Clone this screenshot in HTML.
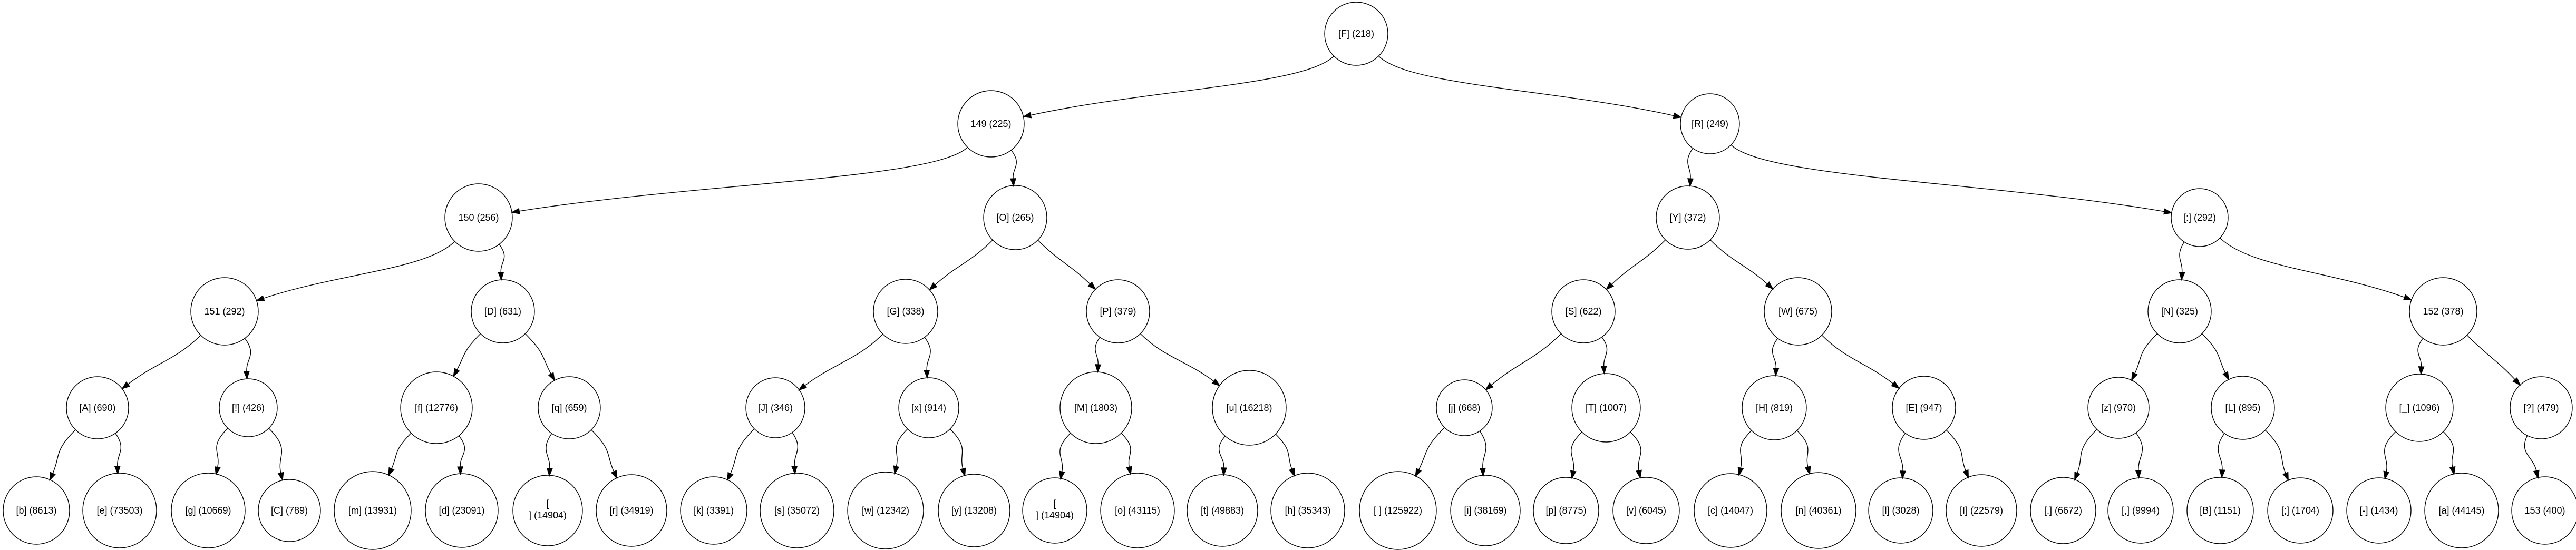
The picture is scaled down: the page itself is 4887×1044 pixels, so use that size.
<!DOCTYPE html>
<html><head><meta charset="utf-8"><style>
html,body{margin:0;padding:0;background:#fff;}
svg{display:block;}
text{font-family:"Liberation Sans",Arial,sans-serif;font-size:18px;fill:#000;text-anchor:middle;}
ellipse{fill:none;stroke:#000;stroke-width:1.4;}
</style></head><body>
<svg id="s" width="4887" height="1044" viewBox="0 0 4887 1044" xmlns="http://www.w3.org/2000/svg">
<g id="edges" fill="none" stroke="#000" stroke-width="1.4"></g>
<g id="heads" fill="#000" stroke="#000" stroke-width="1.4"></g>
<g id="nodes">
<ellipse cx="2573" cy="64" rx="60" ry="60"/><text x="2573" y="70">[F] (218)</text>
<ellipse cx="1880" cy="235" rx="63" ry="63"/><text x="1880" y="241">149 (225)</text>
<ellipse cx="3244" cy="235" rx="56" ry="57"/><text x="3244" y="241">[R] (249)</text>
<ellipse cx="908" cy="413" rx="64" ry="64"/><text x="908" y="419">150 (256)</text>
<ellipse cx="1926" cy="413" rx="60" ry="61"/><text x="1926" y="419">[O] (265)</text>
<ellipse cx="3202" cy="413" rx="60" ry="60"/><text x="3202" y="419">[Y] (372)</text>
<ellipse cx="4173" cy="413" rx="54" ry="55"/><text x="4173" y="419">[:] (292)</text>
<ellipse cx="426" cy="591" rx="64" ry="64"/><text x="426" y="597">151 (292)</text>
<ellipse cx="954" cy="591" rx="60" ry="60"/><text x="954" y="597">[D] (631)</text>
<ellipse cx="1718" cy="591" rx="61" ry="61"/><text x="1718" y="597">[G] (338)</text>
<ellipse cx="2121" cy="591" rx="60" ry="60"/><text x="2121" y="597">[P] (379)</text>
<ellipse cx="3004" cy="591" rx="60" ry="60"/><text x="3004" y="597">[S] (622)</text>
<ellipse cx="3411" cy="591" rx="64" ry="64"/><text x="3411" y="597">[W] (675)</text>
<ellipse cx="4135" cy="591" rx="60" ry="60"/><text x="4135" y="597">[N] (325)</text>
<ellipse cx="4635" cy="591" rx="64" ry="64"/><text x="4635" y="597">152 (378)</text>
<ellipse cx="185" cy="774" rx="59" ry="59"/><text x="185" y="780">[A] (690)</text>
<ellipse cx="471" cy="774" rx="55" ry="55"/><text x="471" y="780">[!] (426)</text>
<ellipse cx="828" cy="774" rx="68" ry="68"/><text x="828" y="780">[f] (12776)</text>
<ellipse cx="1080" cy="774" rx="59" ry="59"/><text x="1080" y="780">[q] (659)</text>
<ellipse cx="1471" cy="774" rx="56" ry="57"/><text x="1471" y="780">[J] (346)</text>
<ellipse cx="1762" cy="774" rx="57" ry="57"/><text x="1762" y="780">[x] (914)</text>
<ellipse cx="2079" cy="774" rx="68" ry="68"/><text x="2079" y="780">[M] (1803)</text>
<ellipse cx="2370" cy="774" rx="70" ry="71"/><text x="2370" y="780">[u] (16218)</text>
<ellipse cx="2778" cy="774" rx="53" ry="53"/><text x="2778" y="780">[j] (668)</text>
<ellipse cx="3047" cy="774" rx="65" ry="65"/><text x="3047" y="780">[T] (1007)</text>
<ellipse cx="3366" cy="774" rx="61" ry="61"/><text x="3366" y="780">[H] (819)</text>
<ellipse cx="3650" cy="774" rx="60" ry="60"/><text x="3650" y="780">[E] (947)</text>
<ellipse cx="4019" cy="774" rx="58" ry="58"/><text x="4019" y="780">[z] (970)</text>
<ellipse cx="4255" cy="774" rx="60" ry="60"/><text x="4255" y="780">[L] (895)</text>
<ellipse cx="4590" cy="774" rx="64" ry="64"/><text x="4590" y="780">[_] (1096)</text>
<ellipse cx="4821" cy="774" rx="59" ry="59"/><text x="4821" y="780">[?] (479)</text>
<ellipse cx="69" cy="969" rx="63" ry="64"/><text x="69" y="975">[b] (8613)</text>
<ellipse cx="227" cy="969" rx="70" ry="71"/><text x="227" y="975">[e] (73503)</text>
<ellipse cx="395" cy="969" rx="70" ry="71"/><text x="395" y="975">[g] (10669)</text>
<ellipse cx="549" cy="969" rx="59" ry="59"/><text x="549" y="975">[C] (789)</text>
<ellipse cx="707" cy="969" rx="73" ry="74"/><text x="707" y="975">[m] (13931)</text>
<ellipse cx="876" cy="969" rx="69" ry="70"/><text x="876" y="975">[d] (23091)</text>
<ellipse cx="1039" cy="969" rx="66" ry="67"/><text x="1039" y="962">[</text><text x="1039" y="984">] (14904)</text>
<ellipse cx="1198" cy="969" rx="67" ry="68"/><text x="1198" y="975">[r] (34919)</text>
<ellipse cx="1354" cy="969" rx="63" ry="64"/><text x="1354" y="975">[k] (3391)</text>
<ellipse cx="1512" cy="969" rx="70" ry="71"/><text x="1512" y="975">[s] (35072)</text>
<ellipse cx="1680" cy="969" rx="72" ry="73"/><text x="1680" y="975">[w] (12342)</text>
<ellipse cx="1848" cy="969" rx="68" ry="69"/><text x="1848" y="975">[y] (13208)</text>
<ellipse cx="2001" cy="969" rx="61" ry="62"/><text x="2001" y="962">[</text><text x="2001" y="984">] (14904)</text>
<ellipse cx="2158" cy="969" rx="70" ry="71"/><text x="2158" y="975">[o] (43115)</text>
<ellipse cx="2319" cy="969" rx="67" ry="68"/><text x="2319" y="975">[t] (49883)</text>
<ellipse cx="2481" cy="969" rx="70" ry="71"/><text x="2481" y="975">[h] (35343)</text>
<ellipse cx="2652" cy="969" rx="73" ry="74"/><text x="2652" y="975">[ ] (125922)</text>
<ellipse cx="2818" cy="969" rx="66" ry="67"/><text x="2818" y="975">[i] (38169)</text>
<ellipse cx="2971" cy="969" rx="62" ry="63"/><text x="2971" y="975">[p] (8775)</text>
<ellipse cx="3123" cy="969" rx="63" ry="63"/><text x="3123" y="975">[v] (6045)</text>
<ellipse cx="3283" cy="969" rx="69" ry="70"/><text x="3283" y="975">[c] (14047)</text>
<ellipse cx="3450" cy="969" rx="71" ry="72"/><text x="3450" y="975">[n] (40361)</text>
<ellipse cx="3606" cy="969" rx="61" ry="62"/><text x="3606" y="975">[l] (3028)</text>
<ellipse cx="3759" cy="969" rx="67" ry="68"/><text x="3759" y="975">[I] (22579)</text>
<ellipse cx="3914" cy="969" rx="62" ry="63"/><text x="3914" y="975">[.] (6672)</text>
<ellipse cx="4061" cy="969" rx="62" ry="62"/><text x="4061" y="975">[,] (9994)</text>
<ellipse cx="4212" cy="969" rx="63" ry="63"/><text x="4212" y="975">[B] (1151)</text>
<ellipse cx="4364" cy="969" rx="62" ry="62"/><text x="4364" y="975">[;] (1704)</text>
<ellipse cx="4513" cy="969" rx="61" ry="62"/><text x="4513" y="975">[-] (1434)</text>
<ellipse cx="4670" cy="969" rx="70" ry="71"/><text x="4670" y="975">[a] (44145)</text>
<ellipse cx="4828" cy="969" rx="63" ry="64"/><text x="4828" y="975">153 (400)</text>
</g>
</svg>
<script>
(function(){
var N={F:[2573,64,60],n149:[1880,235,63],R:[3244,235,56],n150:[908,413,64],O:[1926,413,60],Y:[3202,413,60],CO:[4173,413,54],
n151:[426,591,64],D:[954,591,60],G:[1718,591,61],P:[2121,591,60],S:[3004,591,60],W:[3411,591,64],Nn:[4135,591,60],n152:[4635,591,64],
A:[185,774,59],EX:[471,774,55],f:[828,774,68],q:[1080,774,59],J:[1471,774,56],x:[1762,774,57],M:[2079,774,68],u:[2370,774,70],j:[2778,774,53],T:[3047,774,65],H:[3366,774,61],E:[3650,774,60],z:[4019,774,58],L:[4255,774,60],US:[4590,774,64],QM:[4821,774,59],
b:[69,969,63],e:[227,969,70],g:[395,969,70],C:[549,969,59],m:[707,969,73],d:[876,969,69],nl1:[1039,969,66],r:[1198,969,67],k:[1354,969,63],s:[1512,969,70],w:[1680,969,72],y:[1848,969,68],nl2:[2001,969,61],o:[2158,969,70],t:[2319,969,67],h:[2481,969,70],sp:[2652,969,73],i:[2818,969,66],p:[2971,969,62],v:[3123,969,63],c:[3283,969,69],nn:[3450,969,71],l:[3606,969,61],I:[3759,969,67],dot:[3914,969,62],cm:[4061,969,62],B:[4212,969,63],sc:[4364,969,62],da:[4513,969,61],a:[4670,969,70],n153:[4828,969,63]};
var E=[["F","n149"],["F","R"],["n149","n150"],["n149","O"],["n150","n151"],["n150","D"],["n151","A"],["n151","EX"],["D","f"],["D","q"],
["A","b"],["A","e"],["EX","g"],["EX","C"],["f","m"],["f","d"],["q","nl1"],["q","r"],["O","G"],["O","P"],["G","J"],["G","x"],["P","M"],["P","u"],
["J","k"],["J","s"],["x","w"],["x","y"],["M","nl2"],["M","o"],["u","t"],["u","h"],["R","Y"],["R","CO"],["Y","S"],["Y","W"],["S","j"],["S","T"],["W","H"],["W","E"],
["j","sp"],["j","i"],["T","p"],["T","v"],["H","c"],["H","nn"],["E","l"],["E","I"],["CO","Nn"],["CO","n152"],["Nn","z"],["Nn","L"],["n152","US"],["n152","QM"],
["z","dot"],["z","cm"],["L","B"],["L","sc"],["US","da"],["US","a"],["QM","n153"]];
var eg=document.getElementById("edges"),hg=document.getElementById("heads"),ns="http://www.w3.org/2000/svg";
function nz(x,y){var l=Math.sqrt(x*x+y*y);return [x/l,y/l];}
E.forEach(function(ed){
 var p=N[ed[0]],c=N[ed[1]];var dx=c[0]-p[0],dy=c[1]-p[1];
 var sg=dx>0?1:-1; var s0;
 if(Math.abs(dx)<15){s0=nz(-0.5,1);} else {s0=nz(sg*Math.min(1,Math.abs(dx)/60),1);}
 var P0=[p[0]+s0[0]*p[2],p[1]+s0[1]*p[2]];
 var u=nz(c[0]-P0[0],(c[1]-P0[1])*1.1);
 var T=[c[0]-u[0]*c[2],c[1]-u[1]*c[2]];
 var B=[T[0]-u[0]*14,T[1]-u[1]*14];
 var L=Math.sqrt((B[0]-P0[0])*(B[0]-P0[0])+(B[1]-P0[1])*(B[1]-P0[1]));
 var k1=0.5*Math.max(10,(B[1]-P0[1]))/s0[1];
 var P1=[P0[0]+s0[0]*k1,P0[1]+s0[1]*k1];
 var k2=0.4*L;
 var P2=[B[0]-u[0]*k2,B[1]-u[1]*k2];
 var path=document.createElementNS(ns,"path");
 path.setAttribute("d","M"+P0[0]+","+P0[1]+" C"+P1[0]+","+P1[1]+" "+P2[0]+","+P2[1]+" "+B[0]+","+B[1]);
 eg.appendChild(path);
 var px=-u[1],py=u[0];
 var poly=document.createElementNS(ns,"polygon");
 poly.setAttribute("points",T[0]+","+T[1]+" "+(B[0]+px*5)+","+(B[1]+py*5)+" "+(B[0]-px*5)+","+(B[1]-py*5));
 hg.appendChild(poly);
});
})();
</script>
</body></html>
